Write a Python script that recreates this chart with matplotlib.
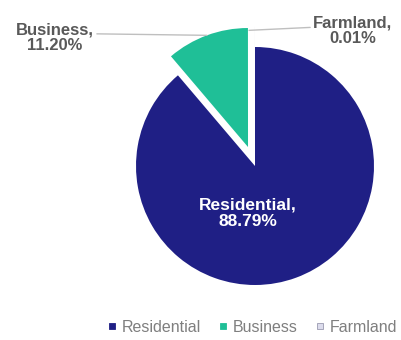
import matplotlib
matplotlib.use("Agg")
import matplotlib.pyplot as plt
from matplotlib.lines import Line2D
import numpy as np

plt.rcParams['font.family'] = ['Liberation Sans', 'DejaVu Sans']

categories = ["Residential", "Business", "Farmland"]
shares = [88.79, 11.20, 0.01]
colors = ["#1f1f85", "#1fbf97", "#dcdcec"]
explode = [0.0, 0.17, 0.17]

W, H = 401, 340
fig = plt.figure(figsize=(W / 100, H / 100), dpi=100)
ax = fig.add_axes([0, 0, 1, 1])

# pie centre and radius in pixel units
cx, cy, r = 255, 166, 119

wedges, _ = ax.pie(shares, colors=colors, explode=explode, startangle=90,
                   counterclock=False, radius=1.0, center=(0, 0),
                   wedgeprops=dict(linewidth=0))
ax.set_xlim(-cx / r, (W - cx) / r)
ax.set_ylim(-(H - cy) / r, cy / r)
ax.set_aspect("auto")
ax.axis("off")

label_gray = "#595959"

# label inside the residential wedge
ax.text(-0.06, -0.395, f"{categories[0]},\n{shares[0]:.2f}%", color="white",
        fontsize=12.5, fontweight="bold", ha="center", va="center",
        linespacing=1.15)

def edge_point(w, frac=0.5, rad=1.0):
    ang = np.deg2rad(w.theta1 + (w.theta2 - w.theta1) * frac)
    c = w.center
    return (c[0] + rad * np.cos(ang), c[1] + rad * np.sin(ang))

# business label with leader line
bx, by = edge_point(wedges[1], 0.5)
ax.annotate(f"{categories[1]},\n{shares[1]:.2f}%", xy=(bx, by),
            xytext=(-1.68, 1.08), color=label_gray, fontsize=12,
            fontweight="bold", ha="center", va="center", linespacing=1.05,
            arrowprops=dict(arrowstyle="-", color="#bfbfbf", lw=1.0,
                            shrinkA=0, shrinkB=0,
                            relpos=(1.0, 0.62)))

# farmland label with leader line
fx, fy = edge_point(wedges[2], 0.5)
ax.annotate(f"{categories[2]},\n{shares[2]:.2f}%", xy=(fx - 0.05, fy - 0.03),
            xytext=(0.82, 1.14), color=label_gray, fontsize=12,
            fontweight="bold", ha="center", va="center", linespacing=1.05,
            arrowprops=dict(arrowstyle="-", color="#bfbfbf", lw=1.0,
                            shrinkA=0, shrinkB=0,
                            relpos=(0.0, 0.6)))

handles = [Line2D([0], [0], marker="s", linestyle="none", markersize=4.5,
                  markerfacecolor=c,
                  markeredgecolor=("#9a9ab0" if i == 2 else c),
                  markeredgewidth=0.6)
           for i, c in enumerate(colors)]
leg = fig.legend(handles, categories, loc="center",
                 bbox_to_anchor=(252 / W, 1 - 327 / H), ncol=3,
                 frameon=False, fontsize=11.5, handlelength=0.6,
                 handletextpad=0.3, columnspacing=1.1, borderpad=0)
for t in leg.get_texts():
    t.set_color("#7f7f7f")

fig.savefig("out.png", dpi=100)
